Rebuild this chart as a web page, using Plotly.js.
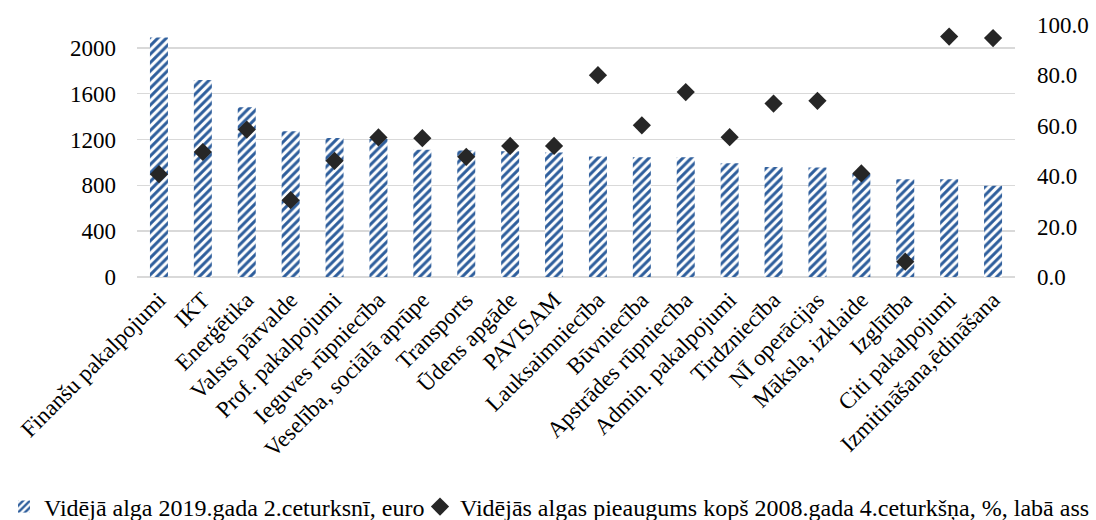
<!DOCTYPE html>
<html>
<head>
<meta charset="utf-8">
<script src="https://cdn.plot.ly/plotly-3.0.1.min.js"></script>
<style>
  html, body { margin: 0; padding: 0; background: #ffffff; }
  #chart { width: 1096px; height: 520px; }
</style>
</head>
<body>
<div id="chart"></div>
<script>
const categories = [
  "Finanšu pakalpojumi", "IKT", "Enerģētika", "Valsts pārvalde", "Prof. pakalpojumi",
  "Ieguves rūpniecība", "Veselība, sociālā aprūpe", "Transports", "Ūdens apgāde", "PAVISAM",
  "Lauksaimniecība", "Būvniecība", "Apstrādes rūpniecība", "Admin. pakalpojumi", "Tirdzniecība",
  "NĪ operācijas", "Māksla, izklaide", "Izglītība", "Citi pakalpojumi", "Izmitināšana,ēdināšana"
];
const avgWage2019Q2 = [2090, 1720, 1483, 1273, 1214, 1205, 1110, 1105, 1098, 1086,
                       1051, 1045, 1045, 993, 961, 955, 900, 853, 853, 797];
const wageGrowthSince2008Q4 = [40.8, 49.6, 58.5, 30.5, 46.1, 55.4, 55.1, 47.7, 52.0, 52.0,
                               80.1, 60.2, 73.4, 55.5, 68.8, 69.9, 41.1, 6.1, 95.4, 94.8];
const seriesNames = [
  "Vidējā alga 2019.gada 2.ceturksnī, euro",
  "Vidējās algas pieaugums kopš 2008.gada 4.ceturkšņa, %, labā ass"
];
const leftTicks = [0, 400, 800, 1200, 1600, 2000];
const rightTicks = [0, 20, 40, 60, 80, 100];

const FONT = "Liberation Serif";

const traces = [
  {
    type: "bar",
    name: seriesNames[0],
    x: categories,
    y: avgWage2019Q2,
    yaxis: "y",
    legend: "legend",
    marker: {
      color: "#ffffff",
      line: { width: 0 },
      pattern: { shape: "/", fgcolor: "#2E5E9C", bgcolor: "#ffffff", size: 6, solidity: 0.5 }
    },
    hoverinfo: "x+y"
  },
  {
    type: "scatter",
    mode: "markers",
    name: seriesNames[1],
    x: categories,
    y: wageGrowthSince2008Q4,
    yaxis: "y2",
    legend: "legend2",
    marker: { symbol: "diamond", size: 14, color: "#262626", line: { width: 0 } },
    hoverinfo: "x+y"
  }
];

const legendBase = {
  orientation: "h",
  xref: "container", yref: "container",
  xanchor: "left",
  y: 0.025, yanchor: "middle",
  font: { family: FONT, size: 24, color: "#000000" },
  itemwidth: 30,
  bgcolor: "rgba(0,0,0,0)",
  borderwidth: 0
};

const layout = {
  width: 1096,
  height: 520,
  paper_bgcolor: "#ffffff",
  plot_bgcolor: "#ffffff",
  margin: { l: 137, r: 81, t: 25, b: 243 },
  font: { family: FONT, color: "#000000", size: 20 },
  bargap: 0.59,
  showlegend: true,
  legend: Object.assign({}, legendBase, { x: 4 / 1096 }),
  legend2: Object.assign({}, legendBase, { x: 420 / 1096 }),
  xaxis: {
    type: "category",
    range: [-0.5, categories.length - 0.5],
    autorange: false,
    tickangle: -45,
    tickfont: { family: FONT, size: 23, color: "#000000" },
    ticklabelstandoff: 4,
    showgrid: false,
    showline: false,
    ticks: "",
    automargin: false
  },
  yaxis: {
    range: [0, 2200],
    tickvals: leftTicks,
    ticktext: leftTicks.map(String),
    tickfont: { family: FONT, size: 23, color: "#000000" },
    showgrid: true,
    gridcolor: "#d9d9d9",
    gridwidth: 1.5,
    zeroline: true,
    zerolinecolor: "#d9d9d9",
    zerolinewidth: 1.5,
    showline: false,
    ticks: "",
    ticklabelstandoff: 20,
    automargin: false
  },
  yaxis2: {
    overlaying: "y",
    side: "right",
    range: [0, 100],
    tickvals: rightTicks,
    ticktext: rightTicks.map(v => v.toFixed(1)),
    tickfont: { family: FONT, size: 23, color: "#000000" },
    showgrid: false,
    zeroline: false,
    showline: false,
    ticks: "",
    ticklabelstandoff: 21,
    automargin: false
  }
};

Plotly.newPlot("chart", traces, layout, { staticPlot: true, displayModeBar: false });
</script>
</body>
</html>
